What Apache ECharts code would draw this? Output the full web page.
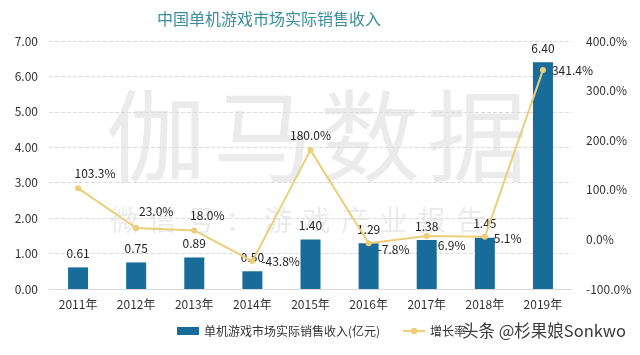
<!DOCTYPE html>
<html><head><meta charset="utf-8">
<script src="https://cdn.jsdelivr.net/npm/echarts@6/dist/echarts.min.js"></script>
<style>html,body{margin:0;padding:0;background:#fff}#c{width:640px;height:355px}</style>
</head><body><div id="c"></div>
<script>
const categories = ['2011年','2012年','2013年','2014年','2015年','2016年','2017年','2018年','2019年'];
const revenue = [0.61, 0.75, 0.89, 0.50, 1.40, 1.29, 1.38, 1.45, 6.40];
const growth = [103.3, 23.0, 18.0, -43.8, 180.0, -7.8, 6.9, 5.1, 341.4];
const growthLabelPos = ['top','top','top','right','top','right','right','right','right'];
const growthLabelOffset = [[17,0],[20,-2],[13,0],[0,0],[0,0],[0,6],[2,9],[0,2],[0,0]];
const leftTicks = {min: 0, max: 7, interval: 1};
const rightTicks = {min: -100, max: 400, interval: 100};

const font = '"Noto Sans CJK SC", "Noto Sans", sans-serif';
const wmColor = 'rgba(190,190,190,0.3)';
const wmBig = ['伽','马','数','据'];
const wmSmall = ['微','信','号','：','游','戏','产','业','报','告'];
const chart = echarts.init(document.getElementById('c'));
chart.setOption({
  animation: false,
  textStyle: {fontFamily: font},
  title: {text: '中国单机游戏市场实际销售收入', left: 152, top: 6,
    textStyle: {color: '#3a8d9d', fontSize: 16, fontWeight: 'normal', fontFamily: font}},
  grid: {left: 49, right: 68, top: 41, bottom: 66},
  legend: {bottom: 13, left: 172, itemWidth: 22, itemHeight: 8, itemGap: 22,
    textStyle: {color: '#333', fontSize: 12, fontFamily: font},
    data: [{name: '单机游戏市场实际销售收入(亿元)', icon: 'rect'}, {name: '增长率'}]},
  graphic: wmBig.map((ch, i) => ({type: 'text', left: 106 + i * 107, top: 86, z: 0, silent: true,
      style: {text: ch, fontSize: 100, fill: wmColor, fontFamily: font}}))
    .concat(wmSmall.map((ch, i) => ({type: 'text', left: 110 + i * 38.5, top: 206, z: 0, silent: true,
      style: {text: ch, fontSize: 28, fill: wmColor, fontFamily: font}})))
    .concat([{type: 'text', left: 462, top: 322, z: 100, silent: true,
      style: {text: '头条 @杉果娘Sonkwo', fontSize: 16.5, fill: '#3a3a3a', fontFamily: font}}]),
  xAxis: {type: 'category', data: categories,
    axisLine: {lineStyle: {color: '#d9d9d9'}}, axisTick: {show: false},
    axisLabel: {color: '#333', fontSize: 12, margin: 9}},
  yAxis: [
    {type: 'value', min: leftTicks.min, max: leftTicks.max, interval: leftTicks.interval,
      axisLine: {show: false}, axisTick: {show: false},
      axisLabel: {color: '#333', fontSize: 12, margin: 11, formatter: v => v.toFixed(2)},
      splitLine: {lineStyle: {color: '#dcdcdc', type: 'dashed'}}},
    {type: 'value', min: rightTicks.min, max: rightTicks.max, interval: rightTicks.interval,
      axisLine: {show: false}, axisTick: {show: false},
      axisLabel: {color: '#333', fontSize: 12, margin: 14, formatter: v => v.toFixed(1) + '%'},
      splitLine: {show: false}}
  ],
  series: [
    {name: '单机游戏市场实际销售收入(亿元)', type: 'bar', data: revenue, barWidth: 20,
      itemStyle: {color: '#176c99'},
      label: {show: true, position: 'top', color: '#222', fontSize: 12, distance: 8, formatter: p => p.value.toFixed(2)}},
    {name: '增长率', type: 'line', yAxisIndex: 1, symbol: 'circle', symbolSize: 6,
      itemStyle: {color: '#ebcf78'}, lineStyle: {color: '#ebcf78', width: 2},
      data: growth.map((v, i) => ({value: v, label: {position: growthLabelPos[i], offset: growthLabelOffset[i]}})),
      label: {show: true, color: '#222', fontSize: 12, distance: 6, formatter: p => p.value.toFixed(1) + '%'}}
  ]
});
</script></body></html>
